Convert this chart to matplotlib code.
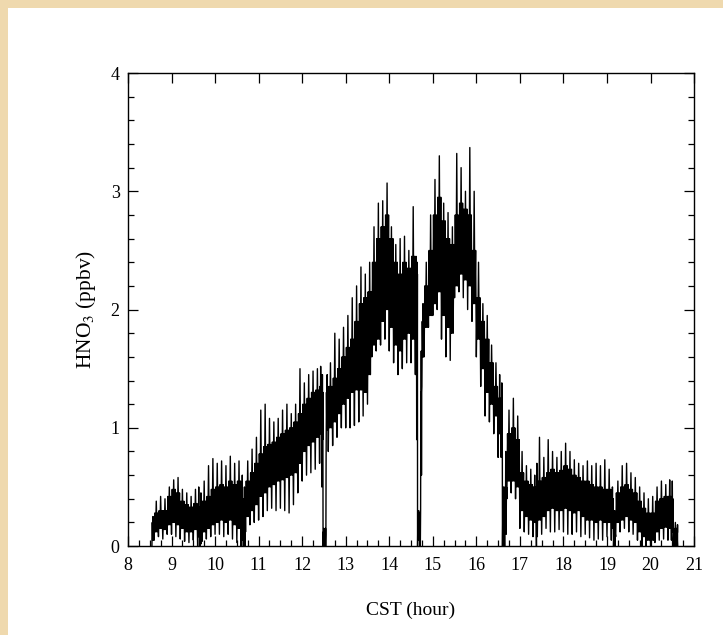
"""HNO3 time series (CST hour) — recreated as out.png."""
import matplotlib
matplotlib.use("Agg")
import matplotlib.pyplot as plt
from matplotlib.patches import Rectangle
from matplotlib.ticker import MultipleLocator

plt.rcParams["font.family"] = ["Liberation Serif", "DejaVu Serif"]
plt.rcParams["mathtext.fontset"] = "stix"

# values: time (h), spike bottom, dense-band bottom,
# dense-band top, spike top (ppbv)
t = [8.55, 8.6, 8.7, 8.8, 8.9, 9.0, 9.1, 9.2, 9.3, 9.4, 9.5, 9.6, 9.65, 9.7,
     9.8, 9.9, 10.0, 10.1, 10.2, 10.3, 10.4, 10.5, 10.6, 10.65, 10.7, 10.8,
     10.9, 11.0, 11.1, 11.2, 11.3, 11.4, 11.5, 11.6, 11.7, 11.8, 11.9, 12.0,
     12.1, 12.2, 12.3, 12.4, 12.45, 12.48, 12.52, 12.55, 12.6, 12.7, 12.8,
     12.9, 13.0, 13.1, 13.2, 13.3, 13.4, 13.5, 13.6, 13.7, 13.8, 13.9, 14.0,
     14.1, 14.2, 14.3, 14.4, 14.5, 14.6, 14.63, 14.65, 14.7, 14.72, 14.75,
     14.8, 14.9, 15.0, 15.1, 15.2, 15.3, 15.4, 15.5, 15.6, 15.7, 15.8, 15.9,
     16.0, 16.1, 16.2, 16.3, 16.4, 16.5, 16.57, 16.6, 16.65, 16.7, 16.8, 16.9,
     17.0, 17.1, 17.2, 17.3, 17.38, 17.4, 17.5, 17.6, 17.7, 17.8, 17.9, 18.0,
     18.1, 18.2, 18.3, 18.4, 18.5, 18.6, 18.7, 18.8, 18.9, 19.0, 19.1, 19.15,
     19.2, 19.3, 19.4, 19.5, 19.6, 19.7, 19.8, 19.9, 20.0, 20.1, 20.2, 20.3,
     20.4, 20.48, 20.52, 20.62]
lo = [0.0, 0.05, 0.08, 0.06, 0.1, 0.1, 0.08, 0.06, 0.04, 0.03, 0.05, 0.0, 0.0,
      0.04, 0.06, 0.08, 0.1, 0.1, 0.08, 0.1, 0.06, 0.03, 0.0, 0.0, 0.12, 0.18,
      0.2, 0.22, 0.25, 0.3, 0.32, 0.3, 0.32, 0.3, 0.28, 0.35, 0.45, 0.55, 0.6,
      0.62, 0.65, 0.7, 0.5, 0.0, 0.0, 0.75, 0.8, 0.85, 0.92, 1.0, 1.0, 1.0,
      1.02, 1.05, 1.1, 1.2, 1.6, 1.65, 1.7, 1.75, 1.65, 1.55, 1.45, 1.5, 1.55,
      1.55, 1.45, 0.9, 0.0, 0.0, 0.3, 1.35, 1.6, 1.85, 1.95, 2.0, 1.75, 1.6,
      1.57, 2.1, 2.15, 2.1, 2.0, 1.9, 1.6, 1.35, 1.1, 1.05, 0.95, 0.75, 0.75,
      0.0, 0.0, 0.4, 0.45, 0.4, 0.15, 0.12, 0.1, 0.08, 0.0, 0.08, 0.1, 0.15,
      0.12, 0.12, 0.14, 0.12, 0.1, 0.1, 0.12, 0.08, 0.1, 0.07, 0.05, 0.06,
      0.05, 0.08, 0.05, 0.0, 0.08, 0.12, 0.15, 0.12, 0.1, 0.05, 0.0, 0.0, 0.0,
      0.03, 0.05, 0.06, 0.05, 0.05, 0.0, 0.0]
core_lo = [0.05, 0.12, 0.15, 0.14, 0.18, 0.2, 0.18, 0.15, 0.12, 0.12, 0.14,
           0.08, 0.02, 0.12, 0.15, 0.18, 0.2, 0.22, 0.2, 0.22, 0.18, 0.15,
           0.05, 0.0, 0.25, 0.3, 0.35, 0.42, 0.45, 0.5, 0.52, 0.55, 0.56, 0.58,
           0.6, 0.62, 0.7, 0.8, 0.85, 0.88, 0.92, 0.95, 0.9, 0.0, 0.0, 0.98,
           1.0, 1.05, 1.12, 1.2, 1.25, 1.3, 1.32, 1.32, 1.3, 1.45, 1.7, 1.75,
           1.9, 2.0, 1.85, 1.7, 1.65, 1.75, 1.8, 1.75, 1.7, 1.5, 0.05, 0.0, 0.6,
           1.6, 1.85, 1.95, 2.05, 2.15, 1.95, 1.85, 1.8, 2.2, 2.3, 2.25, 2.2,
           2.05, 1.75, 1.5, 1.3, 1.2, 1.1, 0.95, 0.9, 0.0, 0.1, 0.55, 0.55,
           0.5, 0.3, 0.25, 0.22, 0.2, 0.2, 0.22, 0.25, 0.3, 0.32, 0.3, 0.3,
           0.32, 0.3, 0.28, 0.3, 0.25, 0.22, 0.22, 0.2, 0.22, 0.2, 0.2, 0.15,
           0.0, 0.2, 0.22, 0.25, 0.22, 0.2, 0.12, 0.08, 0.05, 0.05, 0.12, 0.15,
           0.16, 0.15, 0.12, 0.0, 0.02]
core_hi = [0.2, 0.28, 0.3, 0.3, 0.42, 0.48, 0.45, 0.38, 0.35, 0.33, 0.36,
           0.33, 0.3, 0.38, 0.42, 0.48, 0.5, 0.52, 0.5, 0.55, 0.52, 0.55, 0.4,
           0.3, 0.55, 0.62, 0.7, 0.78, 0.84, 0.86, 0.88, 0.92, 0.95, 0.98, 1.0,
           1.05, 1.12, 1.2, 1.25, 1.3, 1.32, 1.35, 1.3, 0.12, 0.1, 1.3, 1.35,
           1.42, 1.5, 1.6, 1.68, 1.75, 1.9, 2.05, 2.1, 2.15, 2.4, 2.6, 2.7, 2.8,
           2.6, 2.4, 2.3, 2.4, 2.35, 2.45, 2.35, 2.3, 0.25, 0.2, 1.3, 1.9, 2.2,
           2.5, 2.8, 2.95, 2.75, 2.6, 2.55, 2.8, 2.9, 2.85, 2.8, 2.5, 2.1, 1.9,
           1.75, 1.55, 1.35, 1.25, 1.2, 0.3, 0.5, 0.95, 1.0, 0.9, 0.62, 0.55,
           0.52, 0.5, 0.5, 0.55, 0.58, 0.62, 0.65, 0.62, 0.64, 0.68, 0.65, 0.6,
           0.58, 0.55, 0.55, 0.52, 0.5, 0.5, 0.48, 0.48, 0.4, 0.1, 0.45, 0.5,
           0.52, 0.48, 0.45, 0.38, 0.32, 0.28, 0.28, 0.38, 0.4, 0.42, 0.42, 0.4,
           0.15, 0.12]
hi = [0.25, 0.38, 0.42, 0.4, 0.5, 0.56, 0.58, 0.48, 0.45, 0.42, 0.48, 0.5,
      0.45, 0.55, 0.68, 0.74, 0.7, 0.72, 0.68, 0.76, 0.7, 0.72, 0.6, 0.5,
      0.72, 0.82, 0.92, 1.15, 1.2, 1.08, 1.05, 1.08, 1.15, 1.2, 1.12, 1.2, 1.5,
      1.38, 1.45, 1.48, 1.5, 1.52, 1.45, 0.15, 0.15, 1.45, 1.55, 1.8, 1.75,
      1.85, 1.95, 2.1, 2.2, 2.36, 2.3, 2.4, 2.7, 2.9, 2.92, 3.07, 2.7, 2.55,
      2.6, 2.62, 2.5, 2.87, 2.45, 2.4, 0.3, 0.28, 1.65, 2.05, 2.4, 2.8, 3.1,
      3.3, 2.9, 2.82, 2.7, 3.32, 3.2, 3.0, 3.37, 3.0, 2.4, 2.05, 1.95, 1.7,
      1.55, 1.45, 1.38, 0.5, 0.8, 1.15, 1.25, 1.1, 0.8, 0.68, 0.65, 0.6, 0.7,
      0.92, 0.75, 0.9, 0.8, 0.75, 0.8, 0.87, 0.8, 0.73, 0.7, 0.68, 0.72, 0.68,
      0.7, 0.68, 0.73, 0.65, 0.5, 0.3, 0.55, 0.68, 0.7, 0.62, 0.58, 0.5, 0.45,
      0.4, 0.42, 0.5, 0.55, 0.52, 0.56, 0.55, 0.2, 0.18]

fig = plt.figure(figsize=(7.23, 6.35), dpi=100, facecolor="#efd9ae")
# white sheet on the parchment background
fig.patches.append(Rectangle((8 / 723, 0), 1, 1 - 8 / 635, transform=fig.transFigure,
                             facecolor="white", edgecolor="none", zorder=-5))

ax = fig.add_axes([0.177, 0.140, 0.783, 0.745])
ax.set_facecolor("white")

# noisy trace: walk through the four read levels of every sample
zx, zy = [], []
for i in range(len(t)):
    dt = (t[i + 1] - t[i]) / 6 if i + 1 < len(t) else 0.0
    zx += [t[i] + k * dt for k in range(6)]
    zy += [lo[i], core_hi[i], core_lo[i], hi[i], core_lo[i], core_hi[i]]
ax.plot(zx, zy, color="black", lw=1.0, zorder=3)

ax.set_xlim(8, 21)
ax.set_ylim(0, 4)
ax.xaxis.set_major_locator(MultipleLocator(1))
ax.xaxis.set_minor_locator(MultipleLocator(0.25))
ax.yaxis.set_major_locator(MultipleLocator(1))
ax.yaxis.set_minor_locator(MultipleLocator(0.2))
ax.tick_params(which="both", direction="in", top=True, right=True,
               labelsize=13, width=0.9, color="black")
ax.tick_params(axis="x", pad=8)
ax.tick_params(axis="y", pad=6)
ax.tick_params(which="major", length=7)
ax.tick_params(which="minor", length=4, top=False)
for s in ax.spines.values():
    s.set_linewidth(1.0)

ax.set_xlabel("CST (hour)", fontsize=14, labelpad=20)
ax.set_ylabel("HNO$_3$ (ppbv)", fontsize=15.5, labelpad=9)

fig.savefig("out.png", dpi=100, facecolor=fig.get_facecolor())
